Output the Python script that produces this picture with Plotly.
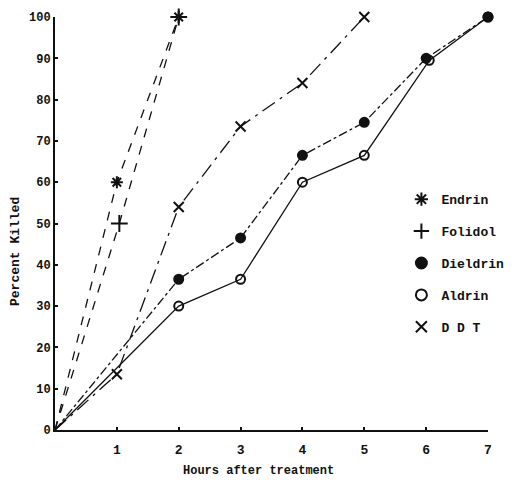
import plotly.graph_objects as go

# Data
endrin_x = [0, 1, 2]
endrin_y = [0, 60, 100]
folidol_x = [0, 1.04, 2]
folidol_y = [0, 50, 100]
dieldrin_x = [0, 2, 3, 4, 5, 6, 7]
dieldrin_y = [0, 36.5, 46.5, 66.5, 74.5, 90, 100]
aldrin_x = [0, 2, 3, 4, 5, 6.05, 7]
aldrin_y = [0, 30, 36.5, 60, 66.5, 89.5, 100]
ddt_x = [0, 1, 2, 3, 4, 5]
ddt_y = [0, 13.5, 54, 73.5, 84, 100]

legend_names = ["Endrin", "Folidol", "Dieldrin", "Aldrin", "D D T"]
x_ticks = [1, 2, 3, 4, 5, 6, 7]
y_ticks = [0, 10, 20, 30, 40, 50, 60, 70, 80, 90, 100]

FONT = "Liberation Mono, Courier New, monospace"
INK = "#111111"

series = [
    (endrin_x, endrin_y, "asterisk-open", 10, "dash", 1.3),
    (folidol_x, folidol_y, "cross-thin-open", 12, "dash", 1.3),
    (dieldrin_x, dieldrin_y, "circle", 9, "dashdot", 1.3),
    (aldrin_x, aldrin_y, "circle-open", 9, "solid", 1.3),
    (ddt_x, ddt_y, "x-thin-open", 10, "longdashdot", 1.3),
]

fig = go.Figure()
for (xs, ys, sym, sz, dash, lw) in series:
    fig.add_trace(go.Scatter(
        x=xs[1:], y=ys[1:], mode="markers",
        marker=dict(symbol=sym, size=sz, color=INK,
                    line=dict(color=INK, width=2)),
        showlegend=False, cliponaxis=False, hoverinfo="skip"))
    fig.add_trace(go.Scatter(
        x=xs, y=ys, mode="lines",
        line=dict(color=INK, width=lw, dash=dash),
        showlegend=False, cliponaxis=False))

# legend-only entries
for i, (name, s) in enumerate(zip(legend_names, series)):
    fig.add_trace(go.Scatter(
        x=[None], y=[None], mode="markers", name=name,
        legendgroup=name,
        marker=dict(symbol=s[2], size=11, color=INK,
                    line=dict(color=INK, width=2))))

fig.update_layout(
    width=500, height=470,
    margin=dict(l=47, r=20, t=9, b=48, autoexpand=False),
    paper_bgcolor="white", plot_bgcolor="white",
    font=dict(family=FONT, size=12, color=INK, weight="bold"),
    showlegend=True,
    legend=dict(x=0.80, y=0.595, xanchor="left", yanchor="top",
                bgcolor="rgba(0,0,0,0)", tracegroupgap=12,
                font=dict(family=FONT, size=13, color=INK, weight="bold")),
    xaxis=dict(range=[0, 7], tickvals=x_ticks, ticktext=[str(v) for v in x_ticks],
               showgrid=False, zeroline=False, showline=True, automargin=False,
               linecolor=INK, linewidth=2, ticks="inside", ticklen=3,
               tickcolor=INK, tickwidth=2, ticklabelstandoff=6,
               tickfont=dict(family=FONT, size=13, weight="bold")),
    yaxis=dict(range=[0, 100], tickvals=y_ticks, ticktext=[str(v) for v in y_ticks],
               showgrid=False, zeroline=False, showline=True, automargin=False,
               linecolor=INK, linewidth=2, ticks="inside", ticklen=3,
               tickcolor=INK, tickwidth=2,
               tickfont=dict(family=FONT, size=12, weight="bold")),
    annotations=[
        dict(text="Hours after treatment", x=0.469, y=-0.099,
             xref="paper", yref="paper", showarrow=False,
             xanchor="center", yanchor="middle",
             font=dict(family=FONT, size=12, weight="bold")),
        dict(text="Percent Killed", x=-0.09, y=0.431,
             xref="paper", yref="paper", showarrow=False, textangle=-90,
             xanchor="center", yanchor="middle",
             font=dict(family=FONT, size=13, weight="bold")),
    ],
)

fig.write_html("out.html")
